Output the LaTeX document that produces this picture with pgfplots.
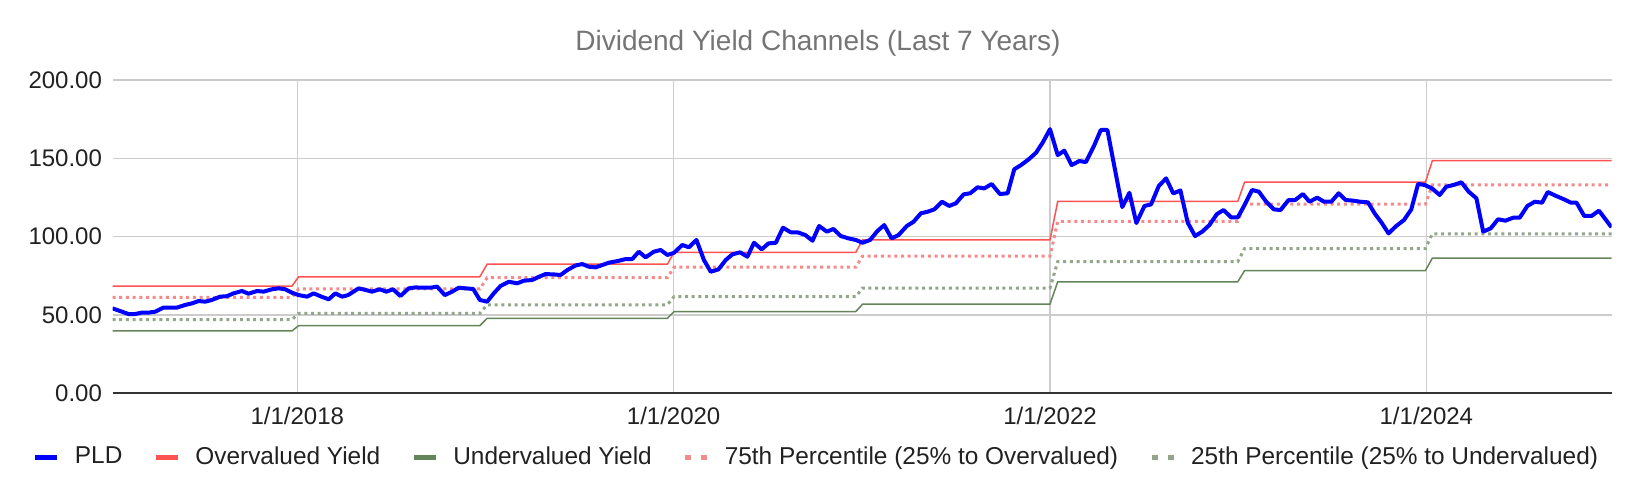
\documentclass[border=0pt]{standalone}
\usepackage{pgfplots}
\pgfplotsset{compat=1.18}
\usepackage{pgfplotstable}
\usepackage{fontspec}
\setmainfont{Liberation Sans}
\definecolor{pldblue}{HTML}{0000FF}
\definecolor{overred}{HTML}{FF5252}
\definecolor{undergreen}{HTML}{64845A}
\definecolor{qthree}{HTML}{F58A8A}
\definecolor{qone}{HTML}{93A58B}
\definecolor{gridgray}{HTML}{CCCCCC}
\definecolor{titlegray}{HTML}{757575}

\pgfplotstableread{
x hi lo qh ql
2017.018 68.5 39.8 61.3 47.0
2017.972 68.5 39.8 61.3 47.0
2018.007 74.4 43.2 66.6 51.0
2018.970 74.4 43.2 66.6 51.0
2019.009 82.4 47.9 73.8 56.5
2019.967 82.4 47.9 73.8 56.5
2020.002 90.0 52.2 80.5 61.7
2020.968 90.0 52.2 80.5 61.7
2021.004 97.9 56.9 87.6 67.2
2022.000 97.9 56.9 87.6 67.2
2022.041 122.5 71.2 109.7 84.0
2022.998 122.5 71.2 109.7 84.0
2023.034 134.8 78.3 120.7 92.4
2023.995 134.8 78.3 120.7 92.4
2024.032 148.5 86.3 133.0 101.8
2024.984 148.5 86.3 133.0 101.8
}\channels

\pgfplotstableread{
x y
2017.018 54.2
2017.059 52.5
2017.103 50.6
2017.138 50.6
2017.174 51.5
2017.209 51.5
2017.245 52.1
2017.289 54.7
2017.324 54.7
2017.360 54.7
2017.404 56.4
2017.440 57.4
2017.475 58.9
2017.511 58.5
2017.546 59.6
2017.590 61.7
2017.626 62.0
2017.661 63.8
2017.706 65.3
2017.741 63.6
2017.786 65.3
2017.821 64.9
2017.865 66.4
2017.901 67.0
2017.936 66.4
2017.972 64.2
2018.007 62.7
2018.052 61.7
2018.087 63.8
2018.128 61.7
2018.167 60.0
2018.202 63.8
2018.238 61.7
2018.270 62.7
2018.300 65.0
2018.326 67.0
2018.362 66.0
2018.397 64.9
2018.438 66.4
2018.473 64.9
2018.509 66.4
2018.548 62.1
2018.592 67.0
2018.628 67.6
2018.672 67.4
2018.707 67.4
2018.743 68.1
2018.784 62.7
2018.823 64.9
2018.858 67.4
2018.894 67.0
2018.935 66.6
2018.970 59.6
2019.009 58.5
2019.044 63.8
2019.080 68.5
2019.124 71.2
2019.169 70.2
2019.204 71.9
2019.248 72.3
2019.284 74.4
2019.319 76.1
2019.363 75.9
2019.399 75.5
2019.435 78.7
2019.479 81.6
2019.514 82.5
2019.550 80.8
2019.585 80.4
2019.621 81.9
2019.656 83.4
2019.701 84.4
2019.745 85.7
2019.780 85.7
2019.815 90.4
2019.851 86.8
2019.895 90.4
2019.931 91.5
2019.967 88.3
2020.002 89.7
2020.046 94.7
2020.081 93.2
2020.121 97.9
2020.161 85.1
2020.197 77.6
2020.238 79.1
2020.277 85.1
2020.312 88.7
2020.353 90.0
2020.392 87.2
2020.427 96.1
2020.468 91.9
2020.504 95.7
2020.543 96.1
2020.581 105.7
2020.622 102.8
2020.658 102.8
2020.700 101.0
2020.738 97.4
2020.773 106.8
2020.814 103.2
2020.849 104.9
2020.888 100.4
2020.929 98.9
2020.968 97.9
2021.004 96.1
2021.044 97.9
2021.083 103.6
2021.119 107.4
2021.158 98.9
2021.195 101.0
2021.239 106.8
2021.275 109.5
2021.314 114.9
2021.349 115.9
2021.385 117.4
2021.426 122.3
2021.464 119.6
2021.500 121.3
2021.541 127.0
2021.576 127.7
2021.615 131.5
2021.651 130.8
2021.690 133.6
2021.734 127.2
2021.775 127.7
2021.810 143.0
2021.846 145.7
2021.887 149.4
2021.926 153.6
2021.961 160.0
2022.000 168.6
2022.041 152.1
2022.076 154.9
2022.115 145.7
2022.156 148.3
2022.191 147.6
2022.234 158.0
2022.270 168.1
2022.305 168.1
2022.345 143.0
2022.384 118.9
2022.422 128.0
2022.459 108.7
2022.502 119.6
2022.537 120.6
2022.578 132.3
2022.617 137.2
2022.655 127.6
2022.693 129.5
2022.732 108.9
2022.771 100.4
2022.809 103.2
2022.847 107.4
2022.887 114.4
2022.922 117.0
2022.963 112.3
2022.998 112.3
2023.034 120.2
2023.074 129.8
2023.110 128.7
2023.149 122.3
2023.190 117.4
2023.225 117.0
2023.268 123.4
2023.303 123.4
2023.344 127.2
2023.379 122.3
2023.420 124.9
2023.456 122.3
2023.495 122.3
2023.534 127.7
2023.571 123.4
2023.610 123.0
2023.649 122.3
2023.690 121.9
2023.725 114.9
2023.761 109.1
2023.799 102.1
2023.840 106.8
2023.881 110.6
2023.920 117.4
2023.956 133.6
2023.991 133.0
2024.030 130.8
2024.071 126.6
2024.106 131.9
2024.145 133.0
2024.186 134.7
2024.225 128.7
2024.266 124.5
2024.302 103.2
2024.342 105.3
2024.381 111.1
2024.420 110.2
2024.461 112.1
2024.496 112.1
2024.537 119.6
2024.576 122.3
2024.615 121.7
2024.645 128.5
2024.691 125.9
2024.732 123.8
2024.768 121.7
2024.798 121.7
2024.839 113.2
2024.878 113.2
2024.917 116.6
2024.984 106.0
}\pld

\begin{document}
\begin{tikzpicture}
\useasboundingbox (-56.25pt,-50.35pt) rectangle (761.75pt,196.65pt);
\begin{axis}[
  scale only axis, width=749.5pt, height=156.65pt,
  xmin=2017.018, xmax=2024.984, ymin=0, ymax=200,
  xtick={2018,2020,2022,2024},
  xticklabels={1/1/2018,1/1/2020,1/1/2022,1/1/2024},
  ytick={0,50,100,150,200},
  yticklabel={\pgfmathprintnumber[fixed,fixed zerofill,precision=2,assume math mode=true]{\tick}},
  tick label style={font=\fontsize{12}{14}\selectfont, text=black!87},
  xticklabel style={yshift=-3.5pt},
  yticklabel style={xshift=-1.75pt},
  major tick length=0pt,
  grid=major, grid style={gridgray, line width=0.75pt},
  separate axis lines,
  axis x line*=bottom, axis y line*=left,
  x axis line style={draw=black!80, line width=1pt, -},
  y axis line style={draw=none, -},
  title={Dividend Yield Channels (Last 7 Years)},
  title style={at={(0.4706,1.0798)}, anchor=center, font=\fontsize{14}{16}\selectfont, text=titlegray},
  legend style={draw=none, fill=none, at={(0.4703,-0.2033)}, anchor=center,
    legend columns=-1, font=\fontsize{12.2}{14}\selectfont, text=black!87,
    /tikz/every odd column/.append style={column sep=5.5pt},
    /tikz/every even column/.append style={column sep=13.5pt}},
  legend image code/.code={\draw[#1] (0pt,0pt) -- (11pt,0pt);},
]
\addlegendimage{pldblue, line width=2.5pt}
\addlegendentry{PLD}
\addlegendimage{overred, line width=2.5pt}
\addlegendentry{Overvalued Yield}
\addlegendimage{undergreen, line width=2.5pt}
\addlegendentry{Undervalued Yield}
\addlegendimage{qthree, line width=2.5pt, dash pattern=on 3pt off 5pt}
\addlegendentry{75th Percentile (25\% to Overvalued)}
\addlegendimage{qone, line width=2.5pt, dash pattern=on 3pt off 5pt}
\addlegendentry{25th Percentile (25\% to Undervalued)}

\addplot[forget plot, qone, line width=1.5pt, dash pattern=on 1.5pt off 1.85pt] table[x=x, y=ql] {\channels};
\addplot[forget plot, qthree, line width=1.5pt, dash pattern=on 1.5pt off 1.85pt] table[x=x, y=qh] {\channels};
\addplot[forget plot, undergreen, line width=0.75pt] table[x=x, y=lo] {\channels};
\addplot[forget plot, overred, line width=0.75pt] table[x=x, y=hi] {\channels};
\addplot[forget plot, pldblue, line width=2pt, line join=round] table[x=x, y=y] {\pld};
\end{axis}
\end{tikzpicture}
\end{document}
